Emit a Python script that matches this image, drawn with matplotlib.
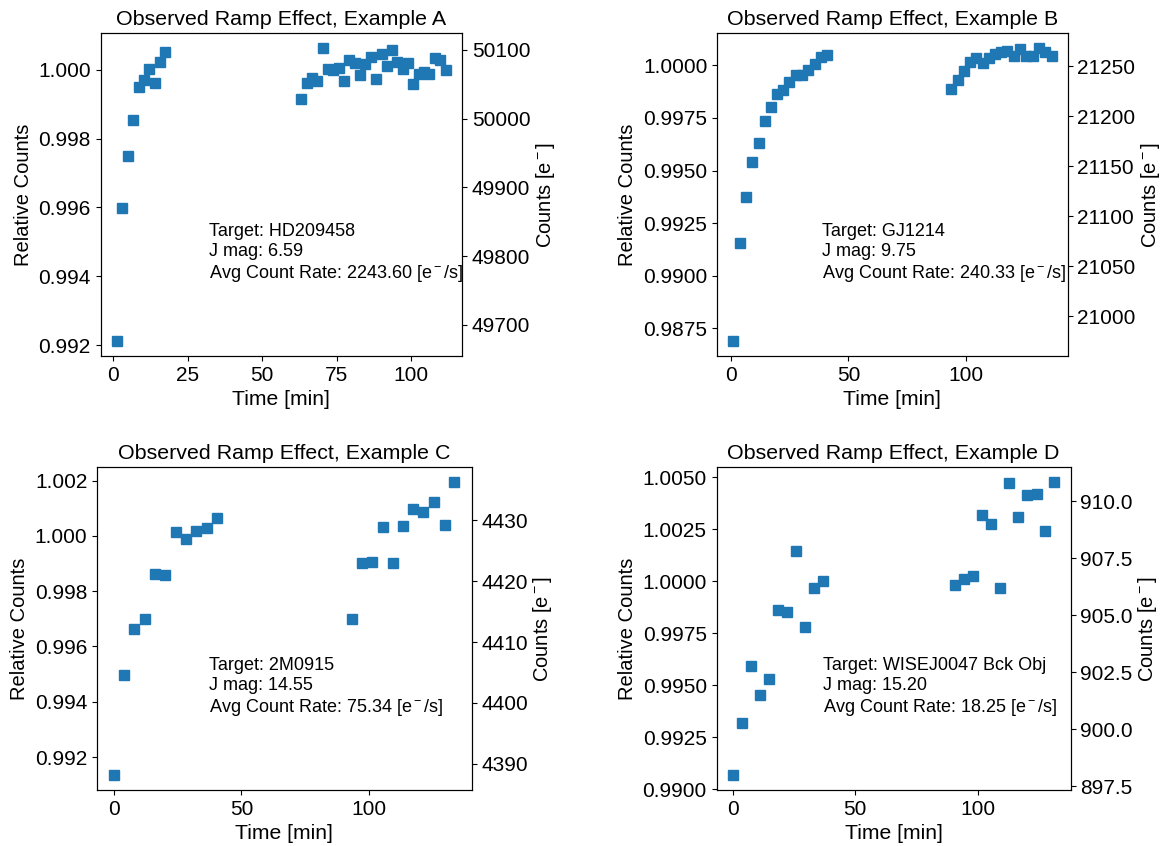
import matplotlib
matplotlib.use("Agg")
import matplotlib.pyplot as plt
from matplotlib.ticker import MultipleLocator, FormatStrFormatter

plt.rcParams['font.family'] = ['Liberation Sans', 'DejaVu Sans']
plt.rcParams['mathtext.fontset'] = 'custom'
plt.rcParams['mathtext.rm'] = 'Liberation Sans'
plt.rcParams['mathtext.it'] = 'Liberation Sans'
plt.rcParams['font.size'] = 14.5
plt.rcParams['xtick.labelsize'] = 15
plt.rcParams['ytick.labelsize'] = 15

# --- Example A: HD209458 ---
time_a = [1.3, 3.1, 5.0, 6.7, 8.6, 10.4, 12.2, 14.1, 15.8, 17.6,
          63.1, 65.0, 66.7, 68.5, 70.3, 72.1, 73.9, 75.7, 77.5, 79.2,
          81.1, 82.9, 84.7, 86.5, 88.3, 90.1, 91.9, 93.6, 95.4, 97.2,
          99.0, 100.8, 102.6, 104.4, 106.1, 107.9, 109.7, 111.6]
rel_a = [0.99211, 0.99597, 0.99748, 0.99854, 0.99949, 0.99970, 1.00001, 0.99962, 1.00022, 1.00051,
         0.99915, 0.99961, 0.99977, 0.99967, 1.00064, 1.00002, 0.99999, 1.00004, 0.99967, 1.00027,
         1.00020, 0.99986, 1.00017, 1.00037, 0.99973, 1.00045, 1.00010, 1.00058, 1.00022, 1.00003,
         1.00020, 0.99958, 0.99987, 0.99992, 0.99988, 1.00035, 1.00028, 1.00000]

# --- Example B: GJ1214 ---
time_b = [0.85, 3.7, 6.4, 9.1, 11.8, 14.5, 17.0, 19.7, 22.3, 24.9, 27.7, 30.2, 32.9, 35.6, 38.3, 40.9,
          93.8, 96.5, 99.1, 101.7, 104.4, 107.1, 109.8, 112.5, 115.0, 117.7, 120.4, 123.1, 125.7,
          128.4, 131.1, 133.8, 136.5]
rel_b = [0.98688, 0.99155, 0.99374, 0.99540, 0.99630, 0.99735, 0.99802, 0.99862, 0.99881, 0.99921,
         0.99952, 0.99952, 0.99976, 1.00005, 1.00040, 1.00048,
         0.99887, 0.99929, 0.99973, 1.00014, 1.00033, 1.00011, 1.00033, 1.00052, 1.00062, 1.00067,
         1.00044, 1.00076, 1.00044, 1.00044, 1.00084, 1.00065, 1.00046]

# --- Example C: 2M0915 ---
time_c = [0.0, 3.9, 8.0, 12.1, 16.1, 20.2, 24.2, 28.3, 32.2, 36.3, 40.4,
          93.3, 97.4, 101.4, 105.4, 109.4, 113.4, 117.4, 121.4, 125.4, 129.8, 133.6]
rel_c = [0.99134, 0.99497, 0.99663, 0.99699, 0.99863, 0.99857, 1.00013, 0.99989, 1.00019, 1.00029, 1.00063,
         0.99700, 0.99903, 0.99904, 1.00033, 0.99902, 1.00034, 1.00099, 1.00088, 1.00122, 1.00039, 1.00196]

# --- Example D: WISEJ0047 background object ---
time_d = [0.0, 3.65, 7.4, 11.1, 14.7, 18.5, 22.2, 25.8, 29.5, 33.1, 36.8,
          90.9, 94.6, 98.2, 101.9, 105.7, 109.3, 112.8, 116.6, 120.3, 124.1, 127.7, 131.4]
rel_d = [0.99066, 0.99319, 0.99592, 0.99451, 0.99531, 0.99860, 0.99849, 1.00147, 0.99781, 0.99967, 1.00001,
         0.99980, 1.00009, 1.00025, 1.00316, 1.00275, 0.99969, 1.00474, 1.00309, 1.00413, 1.00417,
         1.00240, 1.00478]

labels = ['A', 'B', 'C', 'D']
targets = ['HD209458', 'GJ1214', '2M0915', 'WISEJ0047 Bck Obj']
jmags = [6.59, 9.75, 14.55, 15.20]
rates = [2243.60, 240.33, 75.34, 18.25]
# raw counts at relative level 1 and counts per unit of relative flux
counts_unity = [50071, 21251, 4427.45, 906.5]
counts_slope = [50071, 21040, 4543, 912]

times = [time_a, time_b, time_c, time_d]
rels = [rel_a, rel_b, rel_c, rel_d]
left_steps = [0.002, 0.0025, 0.002, 0.0025]
left_fmt = ['%.3f', '%.4f', '%.3f', '%.4f']
right_steps = [100, 50, 10, 2.5]
right_fmt = ['%d', '%d', '%d', '%.1f']

W, H = 1161, 846
# axes boxes in pixels: left, right, top, bottom
boxes = [(100.5, 462, 33, 356), (717, 1067.5, 33, 356),
         (97, 471.5, 467, 790), (716.5, 1070.5, 467, 790)]

fig = plt.figure(figsize=(W / 100, H / 100), dpi=100)

for i in range(4):
    l, r, t, b = boxes[i]
    ax = fig.add_axes([l / W, 1 - b / H, (r - l) / W, (b - t) / H])
    ax.plot(times[i], rels[i], 's', color='#1f77b4', ms=7)
    ax.set_title('Observed Ramp Effect, Example ' + labels[i], fontsize=15.4)
    ax.set_xlabel('Time [min]', fontsize=15.2)
    ax.set_ylabel('Relative Counts')
    ax.xaxis.set_major_locator(MultipleLocator(25 if i == 0 else 50))
    ax.yaxis.set_major_locator(MultipleLocator(left_steps[i]))
    ax.yaxis.set_major_formatter(FormatStrFormatter(left_fmt[i]))
    ax.text(0.3, 0.242,
            'Target: %s\nJ mag: %.2f\nAvg Count Rate: %.2f [e$^-$/s]' % (targets[i], jmags[i], rates[i]),
            transform=ax.transAxes, fontsize=13, va='baseline', ha='left')

    ax2 = ax.twinx()
    lo, hi = ax.get_ylim()
    ax2.set_ylim(counts_unity[i] + counts_slope[i] * (lo - 1),
                 counts_unity[i] + counts_slope[i] * (hi - 1))
    ax2.yaxis.set_major_locator(MultipleLocator(right_steps[i]))
    ax2.yaxis.set_major_formatter(FormatStrFormatter(right_fmt[i]))
    ax2.set_ylabel('Counts [e$^-$]', labelpad=2.5)

fig.savefig('out.png', dpi=100)
